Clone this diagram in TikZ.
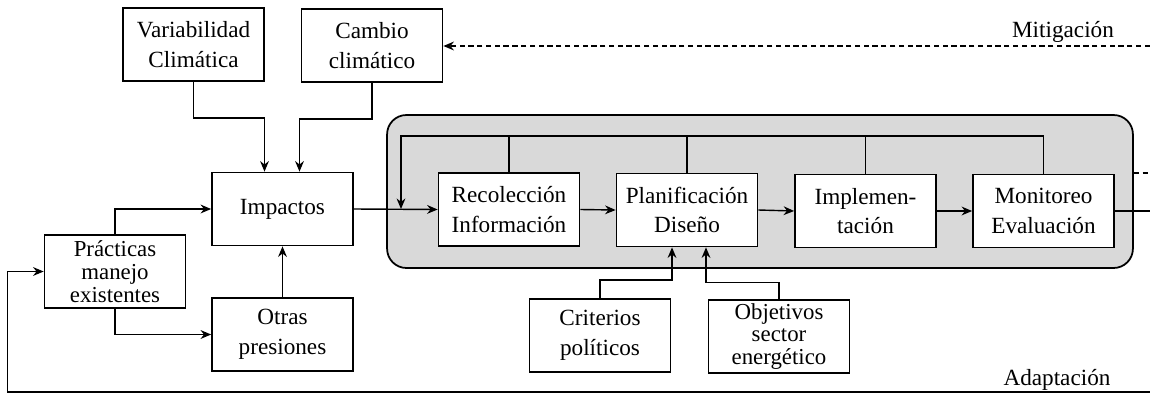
\documentclass[tikz,border=0pt]{standalone}
\usepackage{fontspec}
\setmainfont{Liberation Serif}
\usetikzlibrary{arrows.meta}

\begin{document}
\begin{tikzpicture}[x=0.02cm, y=-0.02cm, line width=0.8pt,
  box/.style={draw, line width=1pt, fill=white, minimum width=2.82cm, minimum height=1.46cm, align=center, inner sep=1pt, font=\fontsize{13.2}{17}\selectfont},
  tight/.style={font=\fontsize{13}{13}\selectfont, inner sep=0pt},
  panel/.style={draw, line width=1pt, fill=gray!30, rounded corners=11pt, minimum width=14.92cm, minimum height=3.06cm},
  arr/.style={-{Stealth[length=6pt,width=5pt]}},
  dotline/.style={dash pattern=on 3pt off 2pt},
  lab/.style={font=\fontsize{13.2}{16}\selectfont}]
\useasboundingbox (0,0) rectangle (1150,396);
\node[panel] (proc) at (760,191.5) {};
\node[box] (var) at (193.5,44.5) {Variabilidad\\Climática};
\node[box] (cam) at (372,45.5) {Cambio\\climático};
\node[box] (imp) at (282.5,209) {Impactos};
\node[box, tight] (prac) at (115,271.5) {Prácticas\\manejo\\existentes};
\node[box] (otr) at (282.5,334.5) {Otras\\presiones};
\node[box] (rec) at (509,209.5) {Recolección\\Información};
\node[box] (plan) at (687,210) {Planificación\\Diseño};
\node[box] (impl) at (865.5,211) {Implemen-\\tación};
\node[box] (mon) at (1043.5,211) {Monitoreo\\Evaluación};
\node[box] (cri) at (600,335.5) {Criterios\\políticos};
\node[box, tight] (obj) at (779,336.5) {Objetivos\\sector\\energético};
\node[lab] (mit) at (1063,32) {Mitigación};
\node[lab] (ada) at (1057,380) {Adaptación};
\coordinate (mitR) at (1150,46);
\coordinate (dashR) at (1150,173);
\coordinate (outR) at (1150,212);
\coordinate (adaR) at (1150,392);
\coordinate (loopL) at (401,136);

\draw[arr] (var.south) -- ++(0,36) -| ([xshift=-0.36cm]imp.north);
\draw[arr] (cam.south) -- ++(0,36) -| ([xshift=0.34cm]imp.north);
\draw[arr] (prac.north) |- (imp.west);
\draw[arr] (prac.south) |- (otr.west);
\draw[arr] (otr.north) -- (imp.south);
\draw[arr] (imp.east) -- (rec.west);
\draw[arr] (rec.east) -- (plan.west);
\draw[arr] (plan.east) -- (impl.west);
\draw[arr] (impl.east) -- (mon.west);
\draw (mon.east) -- (mon.east -| outR);
\draw[arr] (mon.north) |- (loopL) -- (loopL |- imp.east);
\draw (rec.north) -- (rec.north |- loopL);
\draw (plan.north) -- (plan.north |- loopL);
\draw (impl.north) -- (impl.north |- loopL);
\draw[arr] (cri.north) -- ++(0,-18) -| ([xshift=-0.3cm]plan.south);
\draw[arr, {Stealth[length=6pt,width=5pt]}-] ([xshift=0.38cm]plan.south) -- ++(0,35) -| (obj.north);
\draw[arr] (adaR) -| ([xshift=-0.72cm]prac.west) -- (prac.west);
\draw[arr, dotline] (mitR) -- (mitR -| cam.east);
\draw[dotline] (dashR -| proc.east) -- (dashR);
\end{tikzpicture}
\end{document}
